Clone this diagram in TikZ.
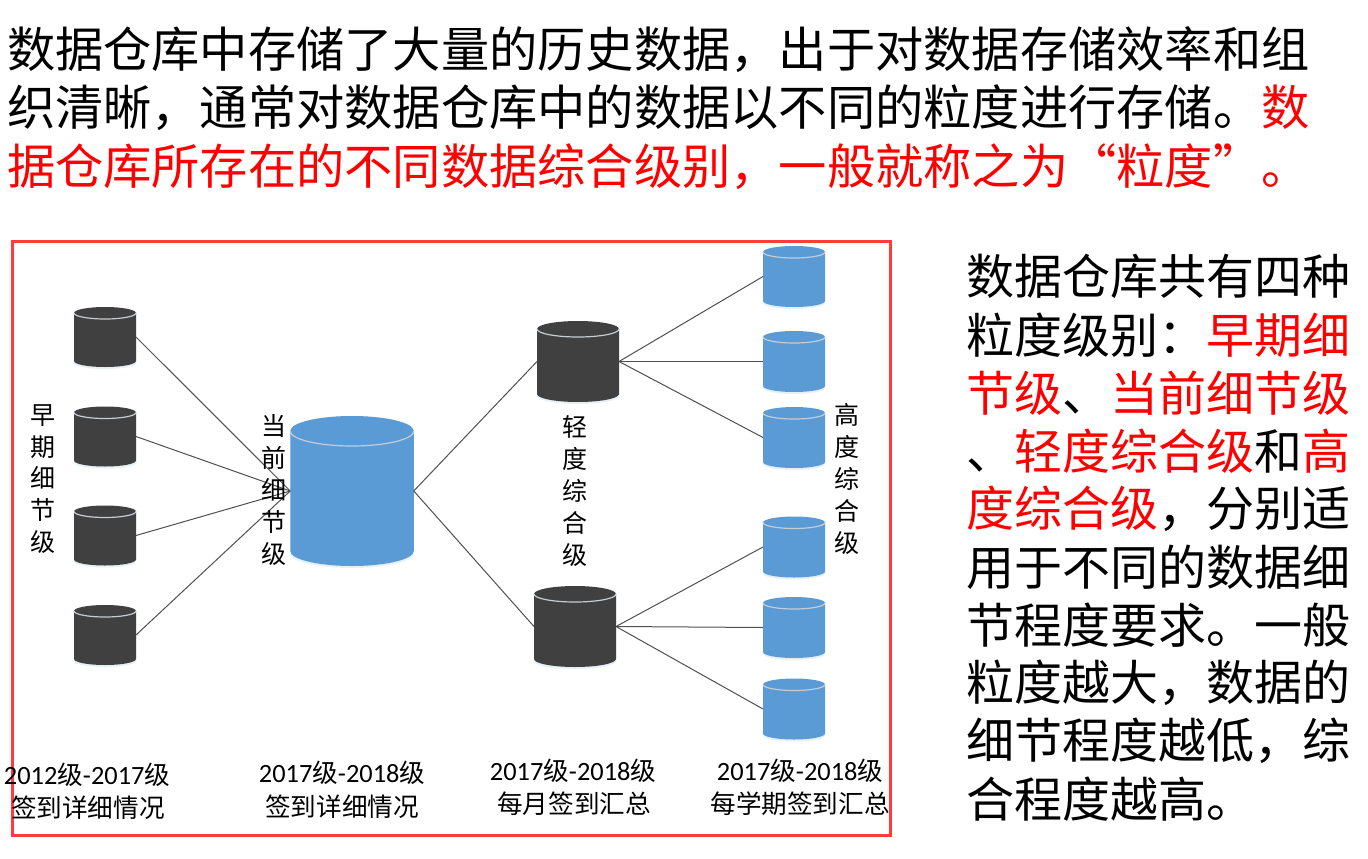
\documentclass[tikz,border=0pt]{standalone}
\usepackage{fontspec}
\setmainfont{Noto Sans CJK SC}
\newfontfamily\latn[Scale=1.03]{Carlito}
\definecolor{framered}{HTML}{FF3B3B}
\definecolor{redtext}{HTML}{FF0000}
\definecolor{dbblue}{HTML}{5B9BD5}
\definecolor{dbdark}{HTML}{404040}
\definecolor{dbedge}{HTML}{C4CCD4}
\definecolor{dbshadow}{HTML}{E6F0F9}
\definecolor{linkgray}{HTML}{505050}
\newcommand{\rd}[1]{\textcolor{redtext}{#1}}
\newcommand{\yr}[2]{{\latn #1}级{\latn -#2}级}
\tikzset{
  bigtext/.style={anchor=west,inner sep=0pt,outer sep=0pt,font=\fontsize{48pt}{48pt}\selectfont,text=black},
  toptext/.style={bigtext,font=\fontsize{48.25pt}{48pt}\selectfont},
  vlabel/.style={anchor=center,inner sep=0pt,align=center,font=\fontsize{25pt}{31.8pt}\selectfont,text=black},
  caplabel/.style={anchor=center,inner sep=0pt,font=\fontsize{25.6pt}{26pt}\selectfont,text=black},
  dbbox/.style={rectangle,inner sep=0pt,outer sep=0pt,draw=none},
  link/.style={draw=linkgray,line width=1pt},
  frame/.style={draw=framered,line width=3pt}
}
% name, centre x, centre y, width, height, ry, colour
\newcommand{\db}[7]{%
  \node[dbbox,minimum width=#4pt,minimum height=#5pt] (#1) at (#2,#3) {};
  \fill[dbshadow] ([yshift=-#6pt-2pt]#1.north west) -- ([yshift=#6pt-2pt]#1.south west)
     arc[start angle=180,end angle=360,x radius=#4pt/2,y radius=#6pt] -- ([yshift=-#6pt-2pt]#1.north east) -- cycle;
  \fill[#7] ([yshift=-#6pt]#1.north west)
     arc[start angle=180,end angle=0,x radius=#4pt/2,y radius=#6pt]
     -- ([yshift=#6pt]#1.south east)
     arc[start angle=360,end angle=180,x radius=#4pt/2,y radius=#6pt] -- cycle;
  \draw[dbedge,line width=1.2pt] ([yshift=-#6pt]#1.north west)
     arc[start angle=180,end angle=360,x radius=#4pt/2,y radius=#6pt];
}
\begin{document}
\begin{tikzpicture}[x=1pt,y=-1pt]
\useasboundingbox (0,0) rectangle (1368,859);
\fill[white] (0,0) rectangle (1368,859);

\node[toptext] (t1) at (7,50) {数据仓库中存储了大量的历史数据，出于对数据存储效率和组};
\node[toptext] (t2) at (7,108) {织清晰，通常对数据仓库中的数据以不同的粒度进行存储。\rd{数}};
\node[toptext] (t3) at (7,167) {\rd{据仓库所存在的不同数据综合级别，一般就称之为“粒度”。}};

\draw[frame] (12,241.5) rectangle (890,835);

\db{d1}{105}{337}{62}{60}{6}{dbdark}
\db{d2}{105}{436.5}{62}{60}{6}{dbdark}
\db{d3}{105}{535.5}{62}{60}{6}{dbdark}
\db{d4}{105}{635}{62}{60}{6}{dbdark}
\db{big}{352}{491}{123.5}{150}{15}{dbblue}
\db{ma}{578}{361.5}{82}{81}{8}{dbdark}
\db{mb}{575}{626.5}{82}{81}{8}{dbdark}
\db{h1}{794}{276.5}{62}{61}{6}{dbblue}
\db{h2}{794}{361.5}{62}{61}{6}{dbblue}
\db{h3}{794}{437.5}{62}{61}{6}{dbblue}
\db{h4}{794}{547}{62}{61}{6}{dbblue}
\db{h5}{794}{627.5}{62}{61}{6}{dbblue}
\db{h6}{794}{709}{62}{61}{6}{dbblue}

\draw[link] (d1.east) -- (big.west);
\draw[link] (d2.east) -- (big.west);
\draw[link] (d3.east) -- (big.west);
\draw[link] (d4.east) -- (big.west);
\draw[link] (big.east) -- (ma.west);
\draw[link] (big.east) -- (mb.west);
\draw[link] (ma.east) -- (h1.west);
\draw[link] (ma.east) -- (h2.west);
\draw[link] (ma.east) -- (h3.west);
\draw[link] (mb.east) -- (h4.west);
\draw[link] (mb.east) -- (h5.west);
\draw[link] (mb.east) -- (h6.west);

\node[vlabel] (v1) at (43,479) {早\\期\\细\\节\\级};
\node[vlabel] (v2) at (274,490) {当\\前\\细\\节\\级};
\node[vlabel] (v3) at (575,491) {轻\\度\\综\\合\\级};
\node[vlabel] (v4) at (847,479) {高\\度\\综\\合\\级};

\node[caplabel] (c1a) at (87,775) {\yr{2012}{2017}};
\node[caplabel] (c1b) at (88,808) {签到详细情况};
\node[caplabel] (c2a) at (342,773) {\yr{2017}{2018}};
\node[caplabel] (c2b) at (342,807) {签到详细情况};
\node[caplabel] (c3a) at (573,771) {\yr{2017}{2018}};
\node[caplabel] (c3b) at (574,804) {每月签到汇总};
\node[caplabel] (c4a) at (800,771) {\yr{2017}{2018}};
\node[caplabel] (c4b) at (800,804) {每学期签到汇总};

\node[bigtext] (r1) at (966,276) {数据仓库共有四种};
\node[bigtext] (r2) at (966,335) {粒度级别：\rd{早期细}};
\node[bigtext] (r3) at (966,393) {\rd{节级}、\rd{当前细节级}};
\node[bigtext] (r4) at (966,451) {、\rd{轻度综合级}和\rd{高}};
\node[bigtext] (r5) at (966,509) {\rd{度综合级}，分别适};
\node[bigtext] (r6) at (966,567) {用于不同的数据细};
\node[bigtext] (r7) at (966,625) {节程度要求。一般};
\node[bigtext] (r8) at (966,683) {粒度越大，数据的};
\node[bigtext] (r9) at (966,741) {细节程度越低，综};
\node[bigtext] (r10) at (966,799) {合程度越高。};
\end{tikzpicture}
\end{document}
